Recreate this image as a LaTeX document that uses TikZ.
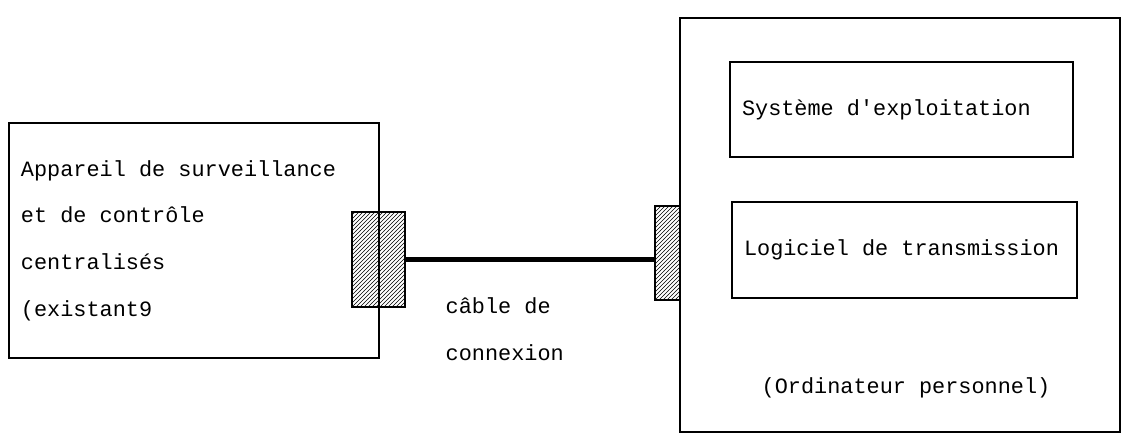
\documentclass[tikz,border=0pt]{standalone}
\usepackage{fontspec}
\setmonofont{Liberation Mono}
\usetikzlibrary{patterns}

\begin{document}
\begin{tikzpicture}[
    x=0.75pt, y=0.75pt,
    font=\ttfamily\fontsize{16.4}{35}\selectfont,
    box/.style={
        rectangle, draw, line width=1pt,
        align=flush left, inner xsep=9pt, inner ysep=0pt
    },
    plug/.style={
        rectangle, draw, line width=0.9pt,
        pattern=north east lines, inner sep=0pt
    },
    cable/.style={line width=3.2pt}
]

\useasboundingbox (0,0) rectangle (1123,439);

%% ─── LEFT: existing device ──────────────────────────────────────────────

\node[box, text width=259.5pt, minimum height=176.25pt] (app) at (194,198.5)
    {Appareil de surveillance\\et de contrôle\\centralisés\\(existant9};

\node[plug, minimum width=39.75pt, minimum height=71.25pt] (plugL) at (378.5,179.5) {};

%% ─── RIGHT: personal computer ───────────────────────────────────────────

\node[box, minimum width=330pt, minimum height=310.5pt] (pc) at (900,214) {};

\node[box, text width=239.25pt, minimum height=71.25pt] (sys) at (901.5,329.5)
    {Système d'exploitation};
\node[box, text width=240.75pt, minimum height=72pt]    (log) at (904.5,189)
    {Logiciel de transmission};

\node (pclbl) at (906,51) {(Ordinateur personnel)};

\node[plug, minimum width=18.75pt, minimum height=70.5pt] (plugR) at (667.5,186) {};

%% ─── CABLE ──────────────────────────────────────────────────────────────

\draw[cable] (plugL.east) -- (plugL.east -| plugR.west);

\node[align=flush left, anchor=west] (cablelbl) at (441,109.5) {câble de\\connexion};

\end{tikzpicture}
\end{document}
